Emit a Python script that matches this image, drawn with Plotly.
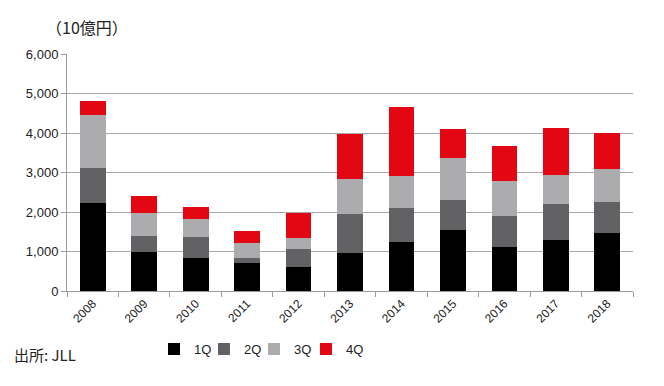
import plotly.graph_objects as go

years = ["2008", "2009", "2010", "2011", "2012", "2013", "2014", "2015", "2016", "2017", "2018"]
q1 = [2219, 995, 843, 717, 616, 970, 1248, 1534, 1105, 1282, 1459]
q2 = [885, 405, 532, 126, 455, 987, 843, 759, 784, 911, 784]
q3 = [1348, 565, 438, 380, 279, 867, 827, 1080, 885, 750, 835]
q4 = [354, 430, 320, 303, 615, 1148, 1728, 717, 885, 1172, 910]
series_names = ["1Q", "2Q", "3Q", "4Q"]
y_ticks = [0, 1000, 2000, 3000, 4000, 5000, 6000]

colors = ["#000000", "#626264", "#ACACAE", "#E30613"]
legend_ids = ["legend", "legend2", "legend3", "legend4"]
legend_x = [0.1537, 0.2420, 0.3304, 0.4222]

font_main = "Liberation Sans"

fig = go.Figure()
for name, vals, c, lid in zip(series_names, [q1, q2, q3, q4], colors, legend_ids):
    fig.add_trace(go.Bar(x=years, y=vals, name=name, marker=dict(color=c, line=dict(width=0)),
                         width=0.5, legend=lid))

legend_common = dict(orientation="h", xanchor="left", y=-0.245, yanchor="middle",
                     font=dict(size=13, family=font_main, color="#222222"),
                     itemwidth=30, bgcolor="rgba(0,0,0,0)")
legend_layout = {lid: dict(legend_common, x=lx) for lid, lx in zip(legend_ids, legend_x)}

fig.update_layout(
    barmode="stack",
    width=664, height=386,
    margin=dict(l=59, r=39, t=46, b=103, autoexpand=False),
    plot_bgcolor="white", paper_bgcolor="white",
    font=dict(family=font_main, size=12, color="#222222"),
    showlegend=True,
    **legend_layout,
    xaxis=dict(type="category", showline=True, linecolor="#9a9a9a", linewidth=1,
               ticks="outside", tickson="boundaries", ticklen=5, tickcolor="#9a9a9a",
               tickangle=-45, tickfont=dict(size=12, color="#222222"), showgrid=False,
               automargin=False),
    yaxis=dict(range=[0, 6000], tickvals=y_ticks, tickformat=",d",
               showline=True, linecolor="#9a9a9a", linewidth=1,
               ticks="outside", ticklen=5, tickcolor="#9a9a9a",
               showgrid=True, gridcolor="#a8a8a8", gridwidth=1,
               tickfont=dict(size=13, color="#222222"), zeroline=False,
               automargin=False),
    annotations=[
        dict(text="（10億円）", xref="paper", yref="paper", x=0.0345, y=1.114,
             xanchor="center", yanchor="middle", showarrow=False,
             font=dict(family="Noto Sans CJK JP", size=16, color="#222222")),
        dict(text="出所: JLL", xref="paper", yref="paper", x=-0.0972, y=-0.27,
             xanchor="left", yanchor="middle", showarrow=False,
             font=dict(family="Noto Sans CJK JP", size=15, color="#222222")),
    ],
)

fig.write_html("out.html")
